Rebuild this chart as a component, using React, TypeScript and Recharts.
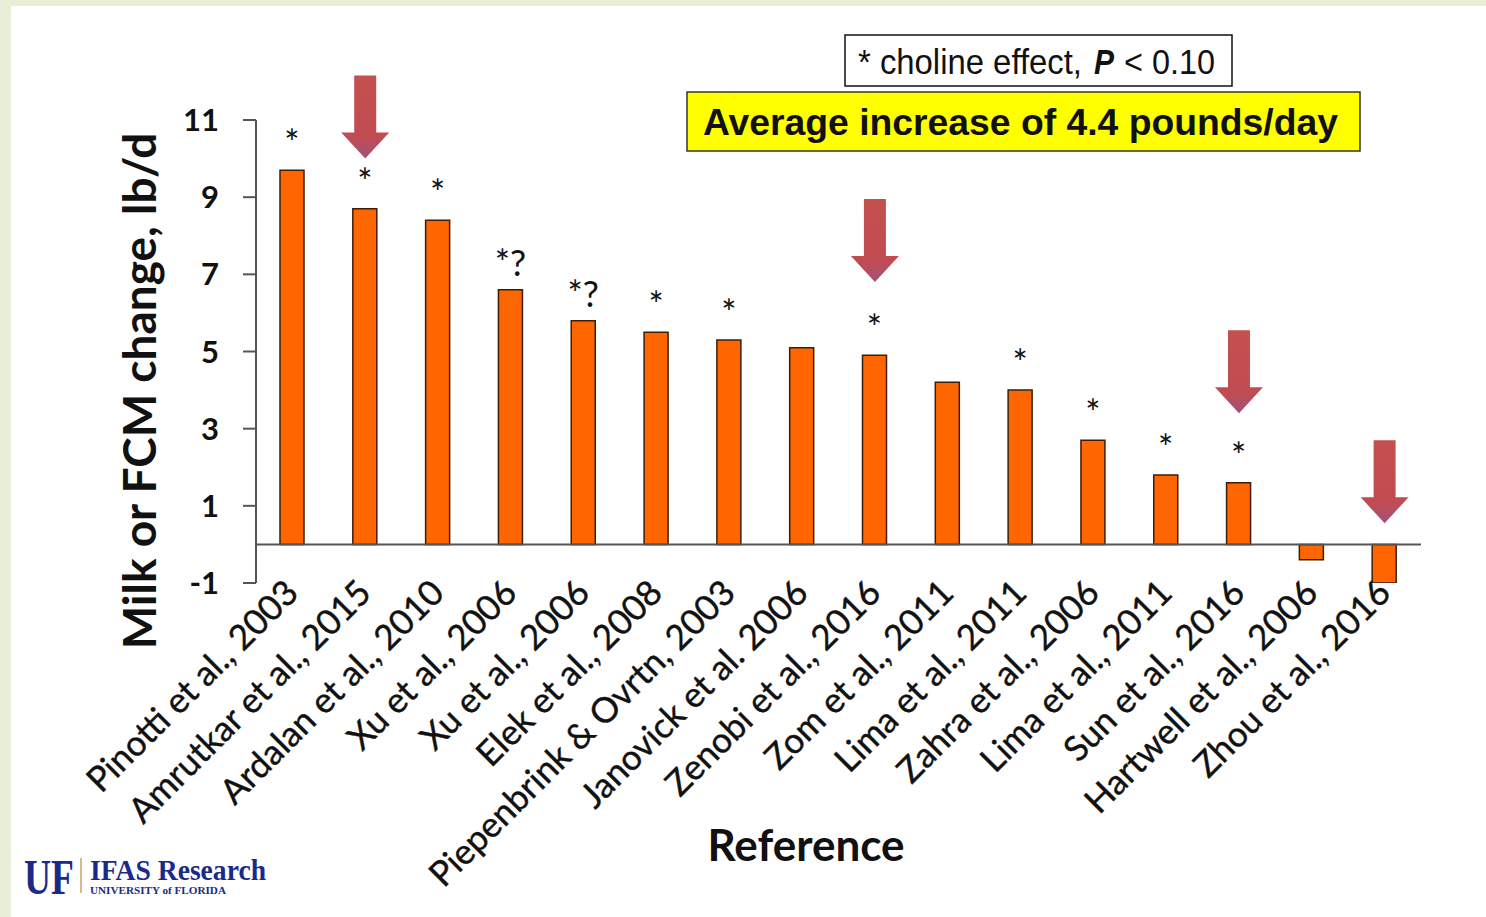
import React from 'react';
import { BarChart, Bar, XAxis, YAxis, ReferenceLine, ReferenceDot, LabelList } from 'recharts';

// studies in the order shown on the x axis
const studies = [
  'Pinotti et al., 2003',
  'Amrutkar et al., 2015',
  'Ardalan et al., 2010',
  'Xu et al., 2006',
  'Xu et al., 2006',
  'Elek et al., 2008',
  'Piepenbrink & Ovrtn, 2003',
  'Janovick et al. 2006',
  'Zenobi et al., 2016',
  'Zom et al., 2011',
  'Lima et al., 2011',
  'Zahra et al., 2006',
  'Lima et al., 2011',
  'Sun et al., 2016',
  'Hartwell et al., 2006',
  'Zhou et al., 2016',
];

// milk or FCM change, lb/d
const milkChange = [9.7, 8.7, 8.4, 6.6, 5.8, 5.5, 5.3, 5.1, 4.9, 4.2, 4.0, 2.7, 1.8, 1.6, -0.4, -1.0];

// significance marks above the bars
const marks = ['*', '*', '*', '*?', '*?', '*', '*', '', '*', '', '*', '*', '*', '*', '', ''];

const yTicks = [-1, 1, 3, 5, 7, 9, 11];

// highlighted studies (index into studies) and the value the arrow tip points to
const arrowStudies = [1, 8, 13, 15];
const arrowTips = [10.0, 6.8, 3.4, 0.55];

const data = studies.map((name, i) => ({
  id: i,
  name,
  value: milkChange[i],
  mark: marks[i],
}));

const AXIS = '#555555';

const StudyTick = (props: any) => {
  const { x, y, payload } = props;
  const ax = x + 8;
  const ay = y + 4;
  return (
    <text
      x={ax}
      y={ay}
      transform={`rotate(-45, ${ax}, ${ay})`}
      textAnchor="end"
      fontFamily="Lato, sans-serif"
      fontSize={35}
      fill="#111"
      stroke="#111"
      strokeWidth={0.4}
    >
      {studies[payload.value]}
    </text>
  );
};

const MarkLabel = (props: any) => {
  const { x, y, width, value } = props;
  if (!value) return null;
  return (
    <text
      x={x + width / 2}
      y={y - 14}
      textAnchor="middle"
      fontFamily="Lato, sans-serif"
      fontSize={36}
      fill="#111"
    >
      {value}
    </text>
  );
};

const Arrow = (props: any) => {
  const { cx, cy } = props;
  if (cx == null || cy == null) return null;
  const headH = 26;
  const shaftH = 57;
  const headW = 48;
  const shaftW = 22;
  const top = cy - headH - shaftH;
  const gid = `arrowGrad${Math.round(cx)}`;
  const d = [
    `M${cx - shaftW / 2},${top}`,
    `L${cx + shaftW / 2},${top}`,
    `L${cx + shaftW / 2},${cy - headH}`,
    `L${cx + headW / 2},${cy - headH}`,
    `L${cx},${cy}`,
    `L${cx - headW / 2},${cy - headH}`,
    `L${cx - shaftW / 2},${cy - headH}`,
    'Z',
  ].join(' ');
  return (
    <g>
      <defs>
        <linearGradient id={gid} x1="0" y1="0" x2="0" y2="1">
          <stop offset="0%" stopColor="#c4504f" />
          <stop offset="75%" stopColor="#c04c52" />
          <stop offset="100%" stopColor="#a0527a" />
        </linearGradient>
      </defs>
      <path d={d} fill={`url(#${gid})`} />
    </g>
  );
};

const boxFont = "'Liberation Sans', Arial, sans-serif";

export default function App() {
  return (
    <div
      style={{
        position: 'absolute',
        top: 0,
        left: 0,
        width: 1486,
        height: 917,
        background: '#e9eed8',
        overflow: 'hidden',
      }}
    >
      <div
        style={{
          position: 'absolute',
          left: 11,
          top: 6,
          right: 0,
          bottom: 0,
          background: '#ffffff',
        }}
      />
      <div style={{ position: 'absolute', left: 0, top: 0 }}>
        <BarChart
          width={1486}
          height={917}
          data={data}
          margin={{ top: 120, right: 65, bottom: 304, left: 156 }}
        >
          <XAxis
            dataKey="id"
            type="category"
            axisLine={false}
            tickLine={false}
            interval={0}
            height={30}
            tick={<StudyTick />}
          />
          <YAxis
            width={100}
            domain={[-1, 11]}
            ticks={yTicks}
            allowDataOverflow
            axisLine={{ stroke: AXIS, strokeWidth: 2 }}
            tickLine={{ stroke: AXIS, strokeWidth: 2 }}
            tickSize={13}
            tickMargin={24}
            tick={{ fontFamily: 'Lato, sans-serif', fontSize: 31, fontWeight: 700, fill: '#111' }}
          />
          <ReferenceLine y={0} stroke={AXIS} strokeWidth={2} ifOverflow="extendDomain" />
          <Bar
            dataKey="value"
            fill="#ff6600"
            stroke="#3c1e08"
            strokeWidth={1.5}
            barSize={24}
            isAnimationActive={false}
          >
            <LabelList dataKey="mark" content={<MarkLabel />} />
          </Bar>
          {arrowStudies.map((s, i) => (
            <ReferenceDot
              key={s}
              x={s}
              y={arrowTips[i]}
              ifOverflow="visible"
              shape={<Arrow />}
            />
          ))}
        </BarChart>
      </div>
      <svg
        width={1486}
        height={917}
        style={{ position: 'absolute', left: 0, top: 0, pointerEvents: 'none' }}
      >
        <text
          x={156}
          y={391}
          transform="rotate(-90, 156, 391)"
          textAnchor="middle"
          fontFamily="Lato, sans-serif"
          fontWeight={700}
          fontSize={46}
          fill="#111"
        >
          Milk or FCM change, lb/d
        </text>
        <text
          x={806}
          y={861}
          textAnchor="middle"
          fontFamily="Lato, sans-serif"
          fontWeight={700}
          fontSize={44}
          fill="#111"
        >
          Reference
        </text>

        {/* legend note */}
        <rect x={845} y={35} width={387} height={51} fill="#fff" stroke="#111" strokeWidth={1.5} />
        <text
          x={858}
          y={74}
          fontFamily={boxFont}
          fontSize={35}
          fill="#111"
          textLength={224}
          lengthAdjust="spacingAndGlyphs"
        >
          * choline effect,
        </text>
        <text
          x={1094}
          y={74}
          fontFamily={boxFont}
          fontSize={35}
          fontStyle="italic"
          fontWeight={700}
          fill="#111"
          textLength={20}
          lengthAdjust="spacingAndGlyphs"
        >
          P
        </text>
        <text
          x={1124}
          y={74}
          fontFamily={boxFont}
          fontSize={35}
          fill="#111"
          textLength={91}
          lengthAdjust="spacingAndGlyphs"
        >
          {'< 0.10'}
        </text>

        <rect x={687} y={92} width={673} height={59} fill="#ffff00" stroke="#333" strokeWidth={1.5} />
        <text
          x={703}
          y={135}
          fontFamily={boxFont}
          fontWeight={700}
          fontSize={36}
          fill="#111"
          textLength={635}
          lengthAdjust="spacingAndGlyphs"
        >
          Average increase of 4.4 pounds/day
        </text>

        {/* logo */}
        <text
          x={24}
          y={894}
          fontFamily="'Liberation Serif', serif"
          fontWeight={700}
          fontSize={50}
          fill="#1b2a8a"
          textLength={50}
          lengthAdjust="spacingAndGlyphs"
        >
          UF
        </text>
        <line x1={81} y1={858} x2={81} y2={893} stroke="#c9a468" strokeWidth={1.5} />
        <text
          x={90}
          y={880}
          fontFamily="'Liberation Serif', serif"
          fontWeight={700}
          fontSize={29}
          fill="#1b2a8a"
          textLength={176}
          lengthAdjust="spacingAndGlyphs"
        >
          IFAS Research
        </text>
        <text
          x={90}
          y={894}
          fontFamily="'Liberation Serif', serif"
          fontWeight={700}
          fontSize={10}
          fill="#1b2a8a"
          textLength={136}
          lengthAdjust="spacingAndGlyphs"
        >
          UNIVERSITY of FLORIDA
        </text>
      </svg>
    </div>
  );
}
